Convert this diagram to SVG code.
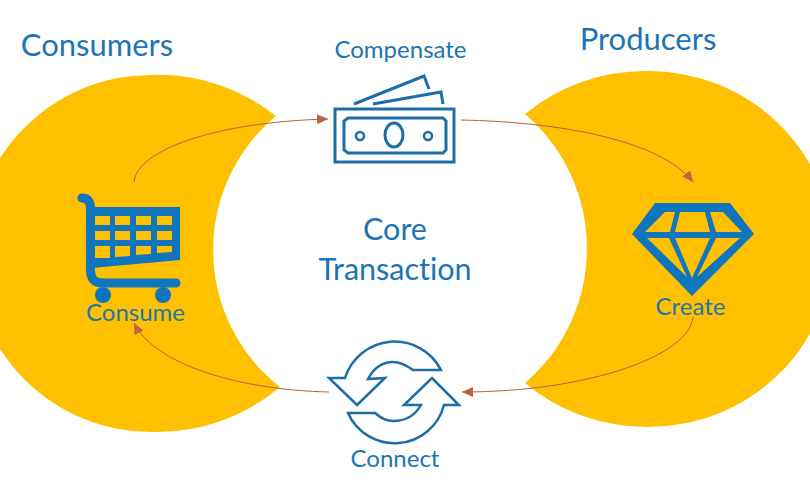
<svg xmlns="http://www.w3.org/2000/svg" width="810" height="500" viewBox="0 0 810 500">
  <style>
    text { font-family: "Lato", "Open Sans", "Liberation Sans", sans-serif; fill: #1b75b5; text-anchor: middle; font-variant-ligatures: none; }
    .head { font-size: 31px; }
    .core { font-size: 30.5px; }
    .label { font-size: 24px; }
    .onGold { fill: #1f77a6; }
    .crescent { fill: #ffc000; }
    .solid { fill: #0f75bd; }
    .line { fill: none; stroke: #0f75bd; }
    .lineDark { fill: none; stroke: #1b6ea8; }
    .link { fill: none; stroke: #b5603f; stroke-width: 1; marker-end: url(#arrow); }
  </style>
  <defs>
    <marker id="arrow" markerUnits="userSpaceOnUse" markerWidth="12" markerHeight="10" refX="11" refY="5" orient="auto">
      <path d="M0,0 L11,5 L0,10 Z" fill="#c0604a"/>
    </marker>
  </defs>
  <rect width="810" height="500" fill="#ffffff"/>

  <g id="consumers-area">
    <path class="crescent" d="M276,116 A190,190 0 0 0 150,75 A178.5,178.5 0 0 0 152,432 A190,190 0 0 0 280,387 A174,174 0 0 1 276,116 Z"/>
  </g>
  <g id="producers-area">
    <path class="crescent" d="M525,114 A185,178 0 0 1 648,71 A184,178 0 0 1 648,427 A185,178 0 0 1 525,383 A177,177 0 0 0 525,114 Z"/>
  </g>

  <g id="connectors">
    <path class="link" d="M134,182 C137,150 215,122 328,119"/>
    <path class="link" d="M461,120 C560,122 660,140 693,182"/>
    <path class="link" d="M693,317 C690,355 590,392 462,392"/>
    <path class="link" d="M329,392 C240,390 155,365 134,323"/>
  </g>

  <g id="consumers-title"><text class="head" x="97" y="56">Consumers</text></g>
  <g id="producers-title"><text class="head" x="648" y="50">Producers</text></g>
  <g id="core-transaction">
    <text class="core" x="395" y="240">Core</text>
    <text class="core" x="395" y="280">Transaction</text>
  </g>

  <g id="consume">
    <path class="line" stroke-width="9" stroke-linecap="round" d="M82,198 C88,198 90.500,202 90.500,208 L90.500,270 Q90.500,283 102,283 L176,283"/>
    <path class="solid" fill-rule="evenodd" d="M92,207 L180,207 L180,260 L92,268 Z
      M94,216 L110,216 L110,225 L94,225 Z M115,216 L130,216 L130,225 L115,225 Z M136,216 L151,216 L151,225 L136,225 Z M157,216 L172,216 L172,225 L157,225 Z
      M94,231 L110,231 L110,240 L94,240 Z M115,231 L130,231 L130,240 L115,240 Z M136,231 L151,231 L151,240 L136,240 Z M157,231 L172,231 L172,240 L157,240 Z
      M94,246 L110,246 L110,258 L94,258 Z M115,246 L130,246 L130,256 L115,257 Z M136,246 L151,246 L151,254 L136,255 Z M157,246 L172,246 L172,252 L157,253 Z"/>
    <circle class="solid" cx="103" cy="295" r="8"/>
    <circle class="solid" cx="163" cy="295" r="8"/>
    <text class="label onGold" x="135.500" y="321">Consume</text>
  </g>

  <g id="compensate">
    <text class="label" x="400.500" y="58">Compensate</text>
    <path class="lineDark" stroke-width="3" d="M354,104 L424,76 L429,89 M373,104 L441,92 L443,104"/>
    <rect class="lineDark" stroke-width="3" x="335" y="109" width="119" height="53"/>
    <path class="lineDark" stroke-width="3" d="M348,118 L443,118 L446,121 L446,150 L443,153 L348,153 L344,150 L344,121 Z"/>
    <circle class="lineDark" stroke-width="2.500" cx="360" cy="136" r="4"/>
    <circle class="lineDark" stroke-width="2.500" cx="428" cy="136" r="4"/>
    <ellipse class="lineDark" stroke-width="3" cx="394" cy="135" rx="9" ry="12"/>
  </g>

  <g id="create">
    <path class="solid" fill-rule="evenodd" d="M655,203 L730,203 L754,234 L692,296 L632,234 Z
      M665,212 L675,212 L670,232 L645,232 Z M680,212 L705,212 L710,232 L675,232 Z M710,212 L723,212 L742,232 L716,232 Z
      M647,238 L669,238 L687,277 Z M675,238 L710,238 L692,278 Z M716,238 L740,238 L697,277 Z"/>
    <text class="label onGold" x="690.500" y="315">Create</text>
  </g>

  <g id="connect">
    <path class="lineDark" stroke-width="2.500" d="M329,378 L345,378 A52,52 0 0 1 441,370 L413,370 Q402,362 393,362 Q377,362 368,379 L385,378 L357,405 Z"/>
    <path class="lineDark" stroke-width="2.500" d="M459,405 L444,405 A51,51 0 0 1 348,413 L375,413 Q384,421 393,421 Q412,421 421,405 L404,405 L432,378 Z"/>
    <text class="label" x="395" y="467">Connect</text>
  </g>
</svg>
